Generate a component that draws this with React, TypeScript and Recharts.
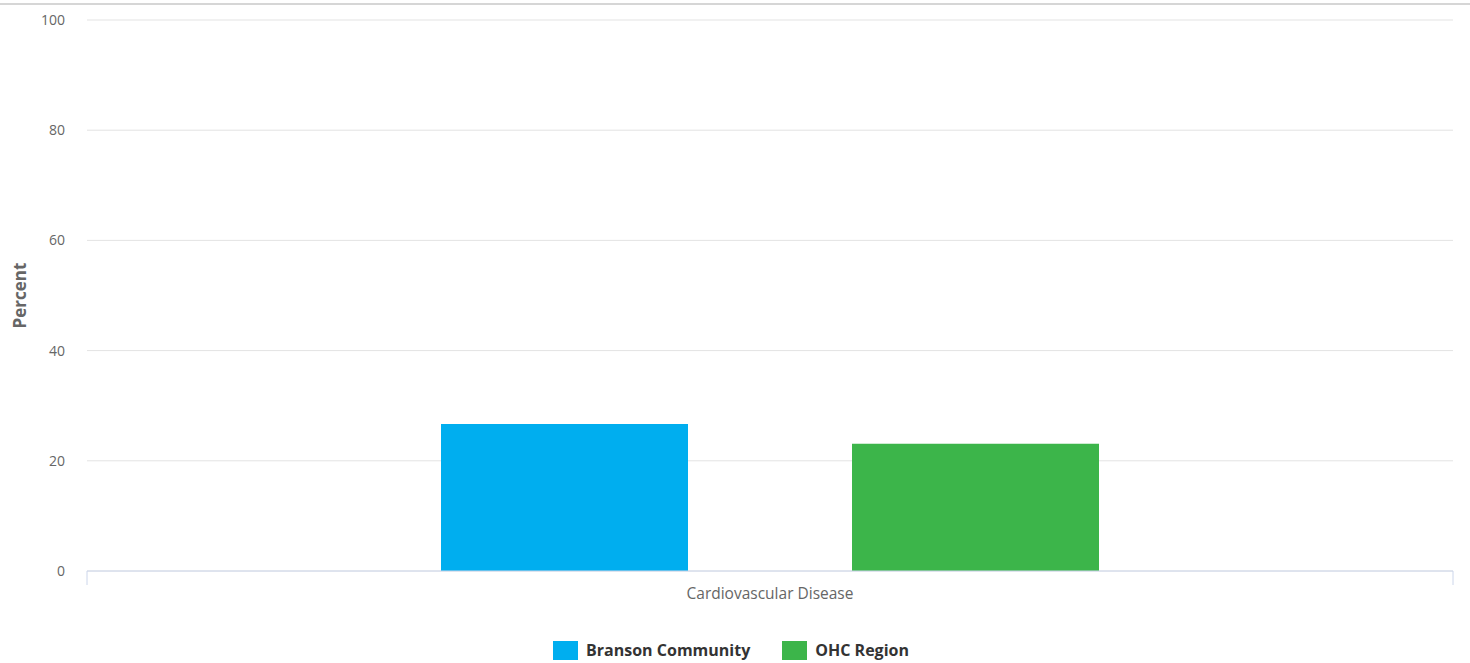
import { BarChart, Bar, XAxis, YAxis, CartesianGrid } from 'recharts'

const categories = ['Cardiovascular Disease']
const bransonValues = [26.7]
const ohcValues = [23.1]
const yTicks = [0, 20, 40, 60, 80, 100]

const seriesInfo = [
  { key: 'branson', name: 'Branson Community', color: '#00aeef' },
  { key: 'ohc', name: 'OHC Region', color: '#3cb54a' },
]

const data = categories.map((c, i) => ({
  category: c,
  branson: bransonValues[i],
  ohc: ohcValues[i],
  edge: i,
}))

const font = '"Open Sans", Lato, sans-serif'

function LegendRow() {
  return (
    <div
      style={{
        position: 'absolute',
        left: 0,
        top: 641,
        width: 1462,
        display: 'flex',
        justifyContent: 'center',
        gap: 32,
        fontFamily: font,
        fontWeight: 700,
        fontSize: 16,
        color: '#333',
      }}
    >
      {seriesInfo.map((s) => (
        <div key={s.key} style={{ display: 'flex', alignItems: 'center', height: 19 }}>
          <span style={{ width: 25, height: 19, background: s.color, marginRight: 8 }} />
          <span style={{ lineHeight: '19px' }}>{s.name}</span>
        </div>
      ))}
    </div>
  )
}

export default function App() {
  return (
    <div style={{ position: 'absolute', left: 0, top: 0, width: 1470, height: 663, background: '#fff' }}>
      <div style={{ position: 'absolute', left: 0, top: 3, width: 1470, height: 2, background: '#d6d6d6' }} />
      <BarChart
        width={1470}
        height={663}
        data={data}
        margin={{ top: 20, right: 17, bottom: 62, left: 0 }}
        barCategoryGap={354}
        barGap={164}
        style={{ fontFamily: font }}
      >
        <CartesianGrid vertical={false} stroke="#e3e3e3" />
        {/* id 0 sits right under the plot: axis line plus end ticks at the plot edges */}
        <XAxis
          xAxisId={0}
          type="number"
          dataKey="edge"
          domain={[0, 1]}
          ticks={[0, 1]}
          tick={{ fill: 'none', fontSize: 1 }}
          tickFormatter={() => ' '}
          tickSize={14}
          tickLine={{ stroke: '#ccd6eb' }}
          axisLine={{ stroke: '#ccd6eb' }}
          height={14}
        />
        <XAxis
          xAxisId="cat"
          dataKey="category"
          tickLine={false}
          axisLine={false}
          tick={{ fill: '#666', fontSize: 15.5 }}
          tickSize={0}
          tickMargin={3}
          height={16}
        />
        <YAxis
          domain={[0, 100]}
          ticks={yTicks}
          width={87}
          axisLine={false}
          tickLine={false}
          tickSize={0}
          tickMargin={22}
          tick={{ fill: '#666', fontSize: 14 }}
          label={{
            value: 'Percent',
            angle: -90,
            position: 'insideLeft',
            offset: 20,
            style: { textAnchor: 'middle', fill: '#666', fontSize: 17, fontWeight: 700 },
          }}
        />
        {seriesInfo.map((s) => (
          <Bar
            key={s.key}
            xAxisId="cat"
            dataKey={s.key}
            name={s.name}
            fill={s.color}
            isAnimationActive={false}
          />
        ))}
      </BarChart>
      <LegendRow />
    </div>
  )
}
